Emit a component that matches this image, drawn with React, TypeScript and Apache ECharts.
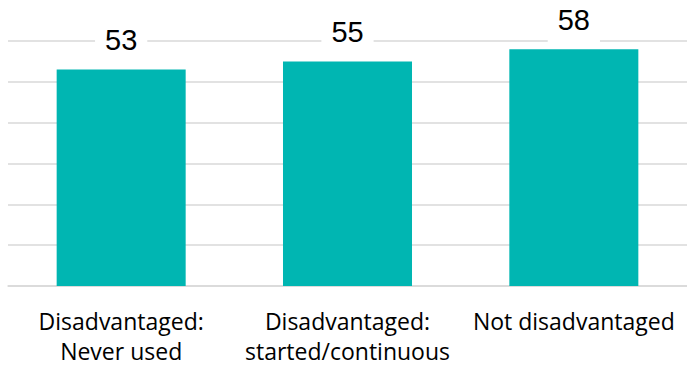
import React, { useEffect, useRef } from "react";
import * as echarts from "echarts";

const categories = ["Disadvantaged:\nNever used", "Disadvantaged:\nstarted/continuous", "Not disadvantaged"];
const values = [53, 55, 58];
const yMin = 0;
const yMax = 60;
const yInterval = 10;

export default function App() {
  const ref = useRef<HTMLDivElement>(null);
  useEffect(() => {
    if (!ref.current) return;
    const chart = echarts.init(ref.current, undefined, { renderer: "svg" });
    chart.setOption({
      animation: false,
      backgroundColor: "#ffffff",
      grid: { left: 8, right: 0, top: 41, bottom: 81, containLabel: false },
      xAxis: {
        type: "category",
        data: categories,
        axisLine: { show: true, lineStyle: { color: "#D9D9D9", width: 1.5 } },
        axisTick: { show: false },
        axisLabel: {
          interval: 0,
          margin: 20,
          fontFamily: "Open Sans",
          fontSize: 23,
          lineHeight: 30,
          color: "#000000",
        },
      },
      yAxis: {
        type: "value",
        min: yMin,
        max: yMax,
        interval: yInterval,
        axisLabel: { show: false },
        axisLine: { show: false },
        axisTick: { show: false },
        splitLine: { lineStyle: { color: "#D9D9D9", width: 1.5 } },
      },
      series: [
        {
          type: "bar",
          data: values,
          barWidth: "57%",
          itemStyle: { color: "#00B6B2" },
          label: {
            show: true,
            position: "top",
            distance: 3,
            fontFamily: "Liberation Sans",
            fontSize: 29,
            color: "#000000",
            backgroundColor: "#ffffff",
            padding: [4, 10, 12, 10],
          },
        },
      ],
    });
    return () => chart.dispose();
  }, []);
  return (
    <div
      ref={ref}
      style={{ position: "absolute", left: 0, top: 0, width: 687, height: 367 }}
    />
  );
}
